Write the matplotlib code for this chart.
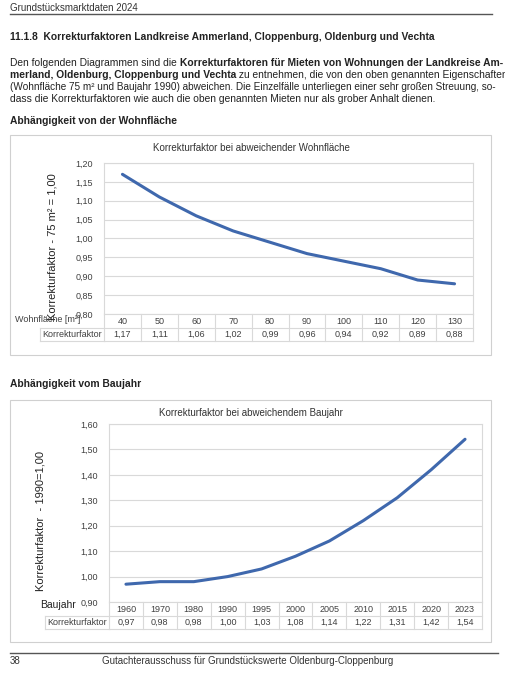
import matplotlib
matplotlib.use("Agg")
import matplotlib.pyplot as plt
from matplotlib.patches import Rectangle
from matplotlib.lines import Line2D

# chart data
area_labels = ["40", "50", "60", "70", "80", "90", "100", "110", "120", "130"]
area_factor = [1.17, 1.11, 1.06, 1.02, 0.99, 0.96, 0.94, 0.92, 0.89, 0.88]
area_ticks = [0.80, 0.85, 0.90, 0.95, 1.00, 1.05, 1.10, 1.15, 1.20]

year_labels = ["1960", "1970", "1980", "1990", "1995", "2000", "2005", "2010", "2015", "2020", "2023"]
year_factor = [0.97, 0.98, 0.98, 1.00, 1.03, 1.08, 1.14, 1.22, 1.31, 1.42, 1.54]
year_ticks = [0.90, 1.00, 1.10, 1.20, 1.30, 1.40, 1.50, 1.60]

W, H = 506, 682
LINE = "#3f68ad"
GRID = "#d9d9d9"
TXT = "#404040"
plt.rcParams["font.family"] = ["Liberation Sans", "DejaVu Sans"]

fig = plt.figure(figsize=(W / 100, H / 100), dpi=100)


def fx(px):
    return px / W


def fy(py):
    return 1 - py / H


def segs(x, y, parts, size=7.4):
    """Draw a line of text made of (string, bold) pieces one after the other."""
    last = None
    for s, bold in parts:
        w = "bold" if bold else "normal"
        if last is None:
            last = fig.text(fx(x), fy(y), s, fontsize=size, weight=w, va="bottom", color="#222")
        else:
            last = fig.add_artist(plt.Annotation(s, xy=(1, 0), xycoords=last, fontsize=size,
                                                 weight=w, va="bottom", color="#222"))


# page header
fig.text(fx(10), fy(11), "Grundstücksmarktdaten 2024", fontsize=7, color="#333")
fig.add_artist(Line2D([fx(10), fx(492)], [fy(14), fy(14)], color="#555", lw=1))
fig.text(fx(10), fy(40), "11.1.8  Korrekturfaktoren Landkreise Ammerland, Cloppenburg, Oldenburg und Vechta",
         fontsize=7.4, weight="bold", color="#222")

segs(10, 68, [("Den folgenden Diagrammen sind die ", False),
              ("Korrekturfaktoren für Mieten von Wohnungen der Landkreise Am-", True)])
segs(10, 80, [("merland, Oldenburg, Cloppenburg und Vechta", True),
              (" zu entnehmen, die von den oben genannten Eigenschaften", False)])
segs(10, 92, [("(Wohnfläche 75 m² und Baujahr 1990) abweichen. Die Einzelfälle unterliegen einer sehr großen Streuung, so-", False)], size=7.2)
segs(10, 104, [("dass die Korrekturfaktoren wie auch die oben genannten Mieten nur als grober Anhalt dienen.", False)])

fig.text(fx(10), fy(124), "Abhängigkeit von der Wohnfläche", fontsize=7.4, weight="bold", color="#222")
fig.text(fx(10), fy(387), "Abhängigkeit vom Baujahr", fontsize=7.4, weight="bold", color="#222")

# footer
fig.add_artist(Line2D([fx(10), fx(498)], [fy(653), fy(653)], color="#555", lw=1))
fig.text(fx(10), fy(664), "38", fontsize=7, color="#333")
fig.text(fx(102), fy(664), "Gutachterausschuss für Grundstückswerte Oldenburg-Cloppenburg", fontsize=7, color="#333")


def chart(box, plot, labels, values, ticks, title, title_y, ylabel, ylab_x, cell_left):
    bx0, by0, bx1, by1 = box
    fig.add_artist(Rectangle((fx(bx0), fy(by1)), fx(bx1 - bx0), (by1 - by0) / H,
                             fill=False, ec="#d0d0d0", lw=0.8))
    px0, py0, px1, py1 = plot
    ax = fig.add_axes([fx(px0), fy(py1), fx(px1 - px0), (py1 - py0) / H])
    n = len(labels)
    xs = list(range(n))
    ax.plot(xs, values, color=LINE, lw=2.2, solid_capstyle="round")
    ax.set_xlim(-0.5, n - 0.5)
    ax.set_ylim(ticks[0], ticks[-1])
    ax.set_yticks(ticks)
    ax.set_yticklabels([f"{t:.2f}".replace(".", ",") for t in ticks], fontsize=6.5, color=TXT)
    ax.set_xticks([])
    ax.grid(axis="y", color=GRID, lw=0.8)
    ax.tick_params(axis="y", length=0, pad=8)
    for s in ax.spines.values():
        s.set_color(GRID)
    fig.text(fx(251), fy(title_y), title, ha="center", va="center", fontsize=7, color="#333")
    fig.text(fx(ylab_x), fy((py0 + py1) / 2 + 8), ylabel, rotation=90, ha="center", va="center",
             fontsize=8, color="#222")

    # data table below the plot
    ph = py1 - py0
    r1 = -14 / ph
    r2 = -27 / ph
    tr = ax.get_xaxis_transform()
    kw = dict(transform=tr, clip_on=False, color=GRID, lw=0.8)
    for i in range(n + 1):
        ax.plot([i - 0.5, i - 0.5], [0, r2], **kw)
    ax.plot([-0.5, n - 0.5], [r1, r1], **kw)
    ax.plot([-0.5, n - 0.5], [r2, r2], **kw)
    left = -0.5 - (px0 - cell_left) / (px1 - px0) * n
    ax.plot([left, -0.5], [r1, r1], **kw)
    ax.plot([left, -0.5], [r2, r2], **kw)
    ax.plot([left, left], [r1, r2], **kw)
    for i, (lab, v) in enumerate(zip(labels, values)):
        ax.text(i, r1 / 2, lab, transform=tr, ha="center", va="center", fontsize=6.5, color=TXT)
        ax.text(i, (r1 + r2) / 2, f"{v:.2f}".replace(".", ","), transform=tr,
                ha="center", va="center", fontsize=6.5, color=TXT)
    ax.text((left - 0.5) / 2, (r1 + r2) / 2, "Korrekturfaktor", transform=tr, ha="center",
            va="center", fontsize=6.5, color=TXT)
    return ax


chart((10, 135, 491, 355), (104, 163, 473, 314), area_labels, area_factor, area_ticks,
      "Korrekturfaktor bei abweichender Wohnfläche", 148, "Korrekturfaktor - 75 m² = 1,00", 53, 40)
fig.text(fx(15), fy(320), "Wohnfläche [m²]", fontsize=6.5, color=TXT, va="center")

chart((10, 400, 491, 642), (109, 424, 482, 602), year_labels, year_factor, year_ticks,
      "Korrekturfaktor bei abweichendem Baujahr", 413, "Korrekturfaktor  - 1990=1,00", 41, 45)
fig.text(fx(40), fy(605), "Baujahr", fontsize=7.5, color="#222", va="center")

fig.savefig("out.png", dpi=100)
